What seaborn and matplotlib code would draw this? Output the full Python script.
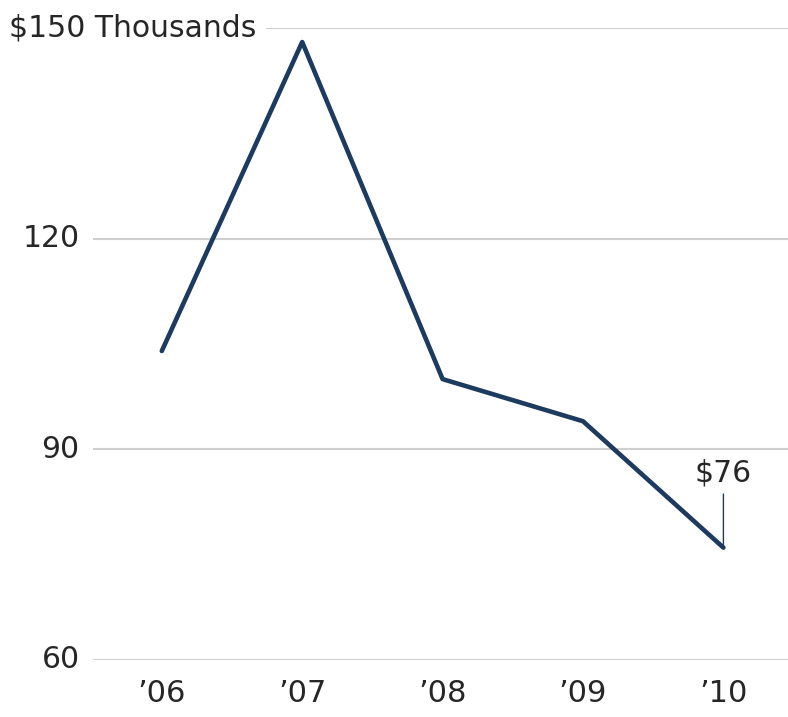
import matplotlib
matplotlib.use("Agg")
import matplotlib.pyplot as plt
import seaborn as sns
import pandas as pd

# data
years = ["\u201906", "\u201907", "\u201908", "\u201909", "\u201910"]
values = [104, 148, 100, 94, 76]
yticks = [60, 90, 120, 150]
ytick_labels = ["60", "90", "120", "$150 Thousands"]

sns.set_style("white")
plt.rcParams['font.family'] = ['Liberation Sans Narrow', 'DejaVu Sans']

df = pd.DataFrame({"x": range(len(years)), "value": values})

fig = plt.figure(figsize=(7.88, 7.17), dpi=100)
ax = fig.add_axes([93 / 788, 1 - 660 / 717, 1 - 93 / 788, (660 - 28) / 717])

# grid lines
for y in yticks:
    xmin = 0.25 if y == 150 else 0.0
    ax.axhline(y, xmin=xmin, xmax=1, color="#cfcfcf", lw=1.5, zorder=1)

sns.lineplot(data=df, x="x", y="value", ax=ax, color="#1d3a5f", lw=3.3,
             zorder=3, clip_on=False)

ax.set_ylim(60, 150)
ax.set_xlim(-0.49, 4.46)
ax.set_xticks(range(len(years)))
ax.set_xticklabels(years, fontsize=22)
ax.set_yticks(yticks)
ax.set_yticklabels([])
for y, lab in zip(yticks, ytick_labels):
    if y == 150:
        ax.text(-1.086, y, lab, fontsize=21.5, ha="left", va="center")
    else:
        ax.text(-0.586, y, lab, fontsize=21.5, ha="right", va="center")
ax.tick_params(axis="x", length=0, pad=14)
ax.tick_params(axis="y", length=0)
ax.set_xlabel("")
ax.set_ylabel("")
for s in ax.spines.values():
    s.set_visible(False)

# end label
ax.annotate("$76", xy=(4, values[-1]), xytext=(4, values[-1] + 8.5),
            ha="center", va="bottom", fontsize=21.5,
            arrowprops=dict(arrowstyle="-", color="#1d3a5f", lw=1,
                            shrinkA=2, shrinkB=0))

fig.savefig("out.png", dpi=100)
